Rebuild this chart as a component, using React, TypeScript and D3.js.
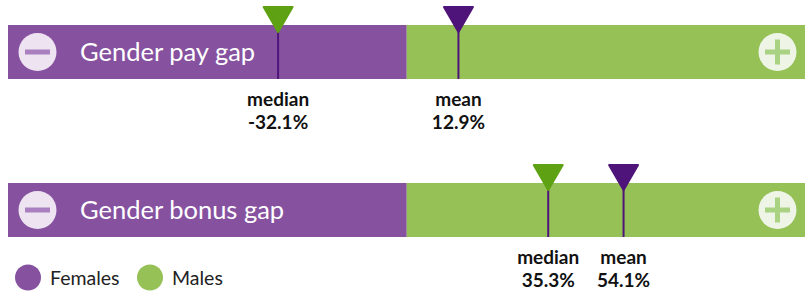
import React from 'react';
import * as d3 from 'd3';

const gapNames = ['Gender pay gap', 'Gender bonus gap'];
const medianValues = [-32.1, 35.3];
const meanValues = [12.9, 54.1];
const legendLabels = ['Females', 'Males'];

const width = 811;
const height = 297;
const purple = '#8652A0';
const green = '#95C157';
const darkPurple = '#4F1479';
const darkGreen = '#5EA213';
const font = 'Lato, "Open Sans", sans-serif';

// percent gap -> horizontal position along the bar
const xScale = d3.scaleLinear().domain([-100, 100]).range([6, 807.5]);
// row index -> top of the bar
const yScale = d3.scaleOrdinal<number, number>().domain([0, 1]).range([25, 183]);
const barHeight = 54;
const legendColour = d3.scaleOrdinal<string, string>().domain(legendLabels).range([purple, green]);

const Marker = ({ x, top, bottom, fill, label, value }) => {
  const tri = d3.line()([[x - 14.5, top], [x + 14.5, top], [x, top + 25]]) + 'Z';
  return (
    <g>
      <line x1={x} x2={x} y1={top + 20} y2={bottom} stroke={darkPurple} strokeWidth={2} />
      <path d={tri} fill={fill} stroke={fill} strokeWidth={2} strokeLinejoin="round" />
      <text x={x} y={bottom + 27} textAnchor="middle" fontSize={19} fontWeight={700} fill="#111">{label}</text>
      <text x={x} y={bottom + 50} textAnchor="middle" fontSize={19} fontWeight={700} fill="#111">{value}</text>
    </g>
  );
};

const Row = ({ i }) => {
  const top = yScale(i);
  const mid = top + barHeight / 2;
  const x0 = xScale(-100) + 2;
  const xc = xScale(0);
  const x1 = xScale(100) - 2.5;
  const fmt = (v: number) => v.toFixed(1) + '%';
  return (
    <g>
      <rect x={x0} y={top} width={xc - x0} height={barHeight} fill={purple} />
      <rect x={xc} y={top} width={x1 - xc} height={barHeight} fill={green} />
      <circle cx={37.5} cy={mid} r={19} fill="#EEE4F1" />
      <rect x={25} y={mid - 2.5} width={25} height={5} fill="#A97FC0" />
      <circle cx={777.5} cy={mid} r={19} fill="#EEF5E7" />
      <rect x={765} y={mid - 2.5} width={25} height={5} fill="#A9D383" />
      <rect x={775} y={mid - 12.5} width={5} height={25} fill="#A9D383" />
      <text x={80} y={mid + 8.5} fontSize={25.5} fill="#fff">{gapNames[i]}</text>
      <Marker x={xScale(medianValues[i])} top={top - 18} bottom={top + barHeight} fill={darkGreen}
        label="median" value={fmt(medianValues[i])} />
      <Marker x={xScale(meanValues[i])} top={top - 18} bottom={top + barHeight} fill={darkPurple}
        label="mean" value={fmt(meanValues[i])} />
    </g>
  );
};

export default function App() {
  return (
    <svg width={width} height={height} style={{ position: 'absolute', left: 0, top: 0 }} fontFamily={font}>
      {gapNames.map((_, i) => <Row key={i} i={i} />)}
      {legendLabels.map((l, i) => (
        <g key={l} transform={`translate(${i === 0 ? 28 : 150},277.5)`}>
          <circle r={13} fill={legendColour(l)} />
          <text x={22} y={7} fontSize={19.5} fill="#222">{l}</text>
        </g>
      ))}
    </svg>
  );
}
